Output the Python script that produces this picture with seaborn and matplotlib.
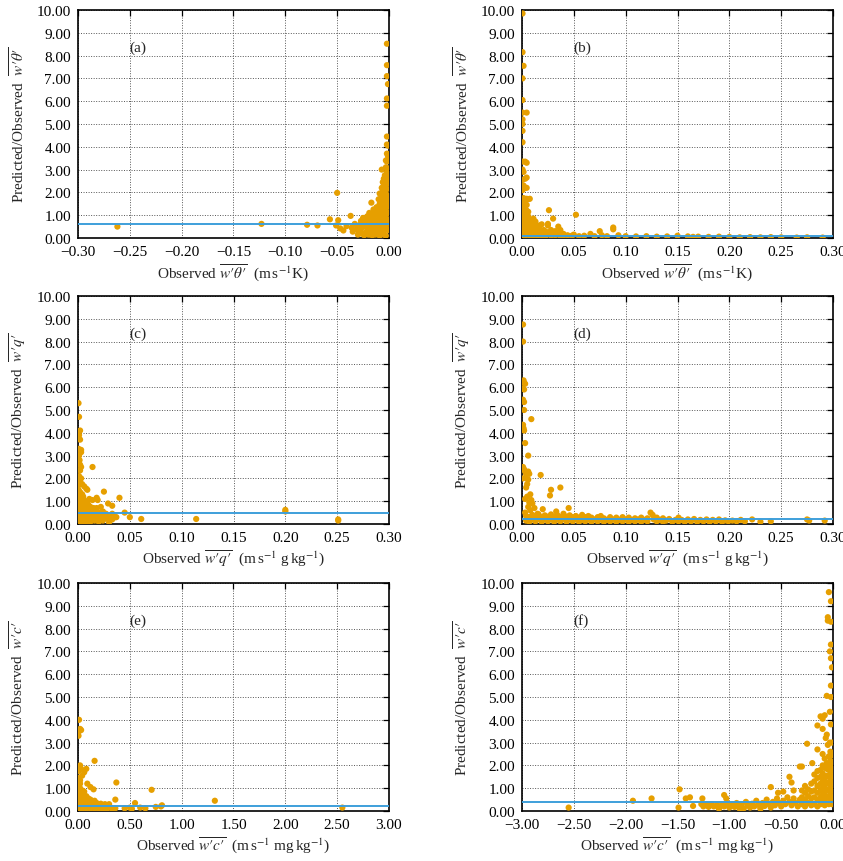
import numpy as np
import pandas as pd
import matplotlib
matplotlib.use("Agg")
import matplotlib.pyplot as plt
from matplotlib.ticker import FuncFormatter, MultipleLocator
import seaborn as sns

# ---------------- data ----------------
panel_tags = ["(a)", "(b)", "(c)", "(d)", "(e)", "(f)"]
mean_ratio = [0.60, 0.08, 0.48, 0.20, 0.20, 0.38]
x_limits = [(-0.30, 0.0), (0.0, 0.30), (0.0, 0.30), (0.0, 0.30), (0.0, 3.0), (-3.0, 0.0)]
x_steps = [0.05, 0.05, 0.05, 0.05, 0.5, 0.5]
flux_names = ["\\overline{w\u2032\\theta\u2032}", "\\overline{w\u2032\\theta\u2032}",
              "\\overline{w\u2032q\u2032}", "\\overline{w\u2032q\u2032}",
              "\\overline{w\u2032c\u2032}", "\\overline{w\u2032c\u2032}"]
flux_units = [r"(m$\,$s$^{-1}$K)", r"(m$\,$s$^{-1}$K)",
              r"(m$\,$s$^{-1}$ g$\,$kg$^{-1}$)", r"(m$\,$s$^{-1}$ g$\,$kg$^{-1}$)",
              r"(m$\,$s$^{-1}$ mg$\,$kg$^{-1}$)", r"(m$\,$s$^{-1}$ mg$\,$kg$^{-1}$)"]

pts_a = [(-0.262, 0.50), (-0.123, 0.62), (-0.079, 0.58), (-0.069, 0.55), (-0.057, 0.82),
         (-0.051, 0.55), (-0.050, 1.98), (-0.049, 0.78), (-0.047, 0.42), (-0.044, 0.33),
         (-0.041, 0.52), (-0.037, 0.97), (-0.036, 0.45), (-0.035, 0.28), (-0.033, 0.62),
         (-0.031, 0.40), (-0.030, 0.15), (-0.030, 0.35), (-0.030, 0.50), (-0.029, 0.55),
         (-0.028, 0.30), (-0.027, 0.20), (-0.027, 0.40), (-0.027, 0.62), (-0.027, 0.75),
         (-0.026, 0.48), (-0.025, 0.88), (-0.025, 0.20), (-0.024, 0.12), (-0.024, 0.50),
         (-0.024, 0.72), (-0.023, 0.60), (-0.022, 0.25), (-0.021, 0.30), (-0.021, 0.55),
         (-0.021, 0.80), (-0.021, 0.95), (-0.020, 0.45), (-0.020, 0.15), (-0.019, 1.10),
         (-0.019, 0.70), (-0.018, 0.15), (-0.018, 0.45), (-0.018, 0.85), (-0.018, 1.00),
         (-0.017, 1.55), (-0.017, 0.55), (-0.016, 0.85), (-0.016, 0.12), (-0.016, 0.35),
         (-0.015, 0.25), (-0.015, 0.55), (-0.015, 0.95), (-0.015, 1.25), (-0.014, 0.65),
         (-0.014, 0.20), (-0.014, 1.05), (-0.013, 0.15), (-0.013, 0.45), (-0.013, 0.75),
         (-0.013, 1.15), (-0.012, 1.35), (-0.012, 0.50), (-0.012, 0.25), (-0.011, 0.35),
         (-0.011, 0.60), (-0.011, 1.00), (-0.011, 1.25), (-0.010, 1.70), (-0.010, 1.10),
         (-0.010, 0.35), (-0.010, 0.80), (-0.009, 0.10), (-0.009, 0.45), (-0.009, 0.80),
         (-0.009, 1.20), (-0.009, 1.95), (-0.009, 1.50), (-0.008, 1.40), (-0.008, 0.90),
         (-0.008, 0.20), (-0.008, 0.60), (-0.008, 1.15), (-0.007, 3.00), (-0.007, 2.20),
         (-0.007, 0.30), (-0.007, 0.70), (-0.007, 0.95), (-0.007, 1.50), (-0.007, 1.80),
         (-0.006, 0.25), (-0.006, 0.55), (-0.006, 1.30), (-0.006, 2.05), (-0.006, 2.45),
         (-0.006, 1.00), (-0.006, 1.65), (-0.005, 0.15), (-0.005, 0.70), (-0.005, 1.25),
         (-0.005, 1.60), (-0.005, 2.30), (-0.005, 2.60), (-0.005, 1.95), (-0.005, 0.45),
         (-0.004, 0.35), (-0.004, 0.90), (-0.004, 1.20), (-0.004, 1.85), (-0.004, 2.10),
         (-0.004, 2.75), (-0.004, 1.55), (-0.003, 0.10), (-0.003, 0.55), (-0.003, 0.80),
         (-0.003, 1.45), (-0.003, 1.70), (-0.003, 2.20), (-0.003, 2.60), (-0.003, 3.10),
         (-0.003, 3.40), (-0.003, 1.10), (-0.003, 1.95), (-0.002, 0.40), (-0.002, 0.65),
         (-0.002, 1.05), (-0.002, 1.35), (-0.002, 1.85), (-0.002, 2.15), (-0.002, 2.50),
         (-0.002, 2.90), (-0.002, 3.35), (-0.002, 3.70), (-0.002, 8.52), (-0.002, 7.58),
         (-0.002, 7.10), (-0.001, 6.75), (-0.002, 6.12), (-0.002, 5.80), (-0.002, 4.45),
         (-0.002, 4.10), (-0.001, 4.05), (-0.001, 0.35), (-0.001, 0.80), (-0.001, 1.10),
         (-0.001, 1.55), (-0.001, 1.80), (-0.001, 2.40), (-0.001, 2.70), (-0.001, 3.05),
         (-0.001, 3.45), (-0.001, 3.60)]

pts_b = [(0.0005, 0.1), (0.0005, 0.3), (0.0005, 0.5), (0.0005, 0.7), (0.0005, 0.9),
         (0.0005, 1.1), (0.0005, 1.3), (0.0005, 1.5), (0.0005, 1.7), (0.0005, 2.1),
         (0.0005, 2.55), (0.0005, 3.0), (0.0005, 3.35), (0.0005, 4.2), (0.0005, 4.7),
         (0.0005, 5.0), (0.0005, 5.2), (0.0005, 5.5), (0.0005, 6.05), (0.0005, 7.0),
         (0.0005, 8.15), (0.0005, 9.85), (0.0015, 0.2), (0.0015, 0.4), (0.0015, 0.6),
         (0.0015, 0.8), (0.0015, 1.0), (0.0015, 1.2), (0.0015, 1.4), (0.0015, 1.6),
         (0.0015, 1.75), (0.0015, 2.3), (0.0015, 2.9), (0.0015, 7.55), (0.003, 0.1),
         (0.003, 0.3), (0.003, 0.5), (0.003, 0.7), (0.003, 0.9), (0.003, 1.1), (0.003, 1.3),
         (0.003, 1.5), (0.003, 1.7), (0.003, 2.2), (0.003, 2.6), (0.003, 3.35),
         (0.0045, 0.2), (0.0045, 0.4), (0.0045, 0.6), (0.0045, 0.8), (0.0045, 1.0),
         (0.0045, 1.2), (0.0045, 1.45), (0.0045, 1.72), (0.0045, 2.2), (0.0045, 2.65),
         (0.0045, 3.3), (0.0045, 5.5), (0.006, 0.15), (0.006, 0.35), (0.006, 0.55),
         (0.006, 0.75), (0.006, 0.95), (0.006, 1.15), (0.006, 1.7), (0.0075, 0.1),
         (0.0075, 0.3), (0.0075, 0.5), (0.0075, 0.7), (0.0075, 1.72), (0.009, 0.15),
         (0.009, 0.35), (0.009, 0.55), (0.009, 0.75), (0.011, 0.1), (0.011, 0.3),
         (0.011, 0.5), (0.011, 0.85), (0.013, 0.2), (0.013, 0.4), (0.013, 0.6),
         (0.013, 0.72), (0.015, 0.1), (0.015, 0.3), (0.015, 0.5), (0.017, 0.2),
         (0.017, 0.4), (0.017, 0.55), (0.019, 0.1), (0.019, 0.3), (0.019, 0.6),
         (0.021, 0.15), (0.021, 0.35), (0.023, 0.1), (0.023, 0.28), (0.025, 0.2),
         (0.025, 0.55), (0.025, 0.62), (0.026, 1.22), (0.028, 0.1), (0.028, 0.35),
         (0.030, 0.85), (0.030, 0.2), (0.032, 0.12), (0.032, 0.3), (0.035, 0.5),
         (0.035, 0.15), (0.037, 0.35), (0.037, 0.1), (0.040, 0.18), (0.040, 0.1),
         (0.044, 0.12), (0.048, 0.1), (0.050, 0.15), (0.052, 1.02), (0.055, 0.08),
         (0.060, 0.1), (0.066, 0.18), (0.070, 0.08), (0.075, 0.3), (0.077, 0.12),
         (0.082, 0.08), (0.088, 0.46), (0.088, 0.38), (0.093, 0.12), (0.10, 0.08),
         (0.11, 0.07), (0.12, 0.08), (0.13, 0.06), (0.14, 0.07), (0.15, 0.1), (0.16, 0.07),
         (0.165, 0.05), (0.17, 0.06), (0.18, 0.05), (0.19, 0.06), (0.20, 0.05),
         (0.21, 0.03), (0.22, 0.04), (0.23, 0.03), (0.24, 0.04), (0.25, 0.03),
         (0.265, 0.02), (0.275, 0.03), (0.29, 0.02)]

pts_c = [(0.0005, 5.3), (0.001, 4.7), (0.002, 4.1), (0.001, 3.9), (0.001, 3.75),
         (0.002, 3.7), (0.0005, 3.3), (0.003, 3.25), (0.003, 3.15), (0.001, 3.0),
         (0.0015, 2.8), (0.002, 2.6), (0.003, 2.5), (0.002, 2.35), (0.014, 2.5),
         (0.001, 2.1), (0.003, 2.0), (0.002, 1.8), (0.004, 1.75), (0.006, 1.65),
         (0.008, 1.55), (0.009, 1.5), (0.025, 1.42), (0.040, 1.15), (0.004, 1.3),
         (0.005, 1.2), (0.011, 1.1), (0.018, 1.15), (0.019, 1.05), (0.029, 0.9),
         (0.033, 0.8), (0.003, 0.95), (0.007, 0.95), (0.015, 0.7), (0.022, 0.75),
         (0.045, 0.5), (0.050, 0.3), (0.061, 0.22), (0.114, 0.22), (0.200, 0.62),
         (0.200, 0.55), (0.251, 0.2), (0.251, 0.15), (0.030, 0.08), (0.036, 0.3),
         (0.0005, 0.1), (0.0005, 0.3), (0.0005, 0.5), (0.0005, 0.7), (0.0005, 0.9),
         (0.0005, 1.1), (0.0005, 1.3), (0.0005, 1.5), (0.0005, 1.7), (0.0005, 1.9),
         (0.002, 0.2), (0.002, 0.4), (0.002, 0.6), (0.002, 0.8), (0.002, 1.0),
         (0.002, 1.2), (0.002, 1.4), (0.004, 0.1), (0.004, 0.3), (0.004, 0.5),
         (0.004, 0.7), (0.004, 0.9), (0.004, 1.1), (0.006, 0.2), (0.006, 0.4),
         (0.006, 0.6), (0.006, 0.8), (0.006, 1.05), (0.008, 0.1), (0.008, 0.3),
         (0.008, 0.5), (0.008, 0.7), (0.008, 0.95), (0.010, 0.2), (0.010, 0.4),
         (0.010, 0.6), (0.010, 0.85), (0.012, 0.1), (0.012, 0.3), (0.012, 0.5),
         (0.012, 0.75), (0.014, 0.2), (0.014, 0.4), (0.014, 0.6), (0.014, 1.05),
         (0.016, 0.15), (0.016, 0.35), (0.016, 0.55), (0.018, 0.25), (0.018, 0.45),
         (0.018, 0.7), (0.020, 0.1), (0.020, 0.3), (0.020, 0.5), (0.022, 0.2),
         (0.022, 0.4), (0.024, 0.15), (0.024, 0.35), (0.024, 0.55), (0.027, 0.25),
         (0.027, 0.45), (0.030, 0.3), (0.033, 0.2), (0.033, 0.45), (0.037, 0.3)]

pts_d = [(0.001, 8.75), (0.001, 8.0), (0.0015, 6.3), (0.002, 6.2), (0.001, 5.95),
         (0.002, 5.9), (0.003, 6.15), (0.001, 5.45), (0.002, 5.35), (0.002, 5.0),
         (0.009, 4.6), (0.001, 4.35), (0.0015, 4.2), (0.002, 4.1), (0.003, 3.55),
         (0.006, 3.0), (0.001, 2.5), (0.002, 2.4), (0.003, 2.3), (0.004, 2.2),
         (0.006, 2.3), (0.007, 2.2), (0.018, 2.15), (0.001, 2.0), (0.004, 2.0),
         (0.006, 1.95), (0.005, 1.75), (0.004, 1.6), (0.037, 1.6), (0.028, 1.5),
         (0.008, 1.3), (0.005, 1.2), (0.027, 1.25), (0.003, 1.1), (0.009, 1.05),
         (0.007, 0.95), (0.010, 0.9), (0.006, 0.75), (0.012, 0.7), (0.008, 0.6),
         (0.003, 0.5), (0.020, 0.65), (0.045, 0.7), (0.015, 0.45), (0.033, 0.55),
         (0.004, 0.15), (0.004, 0.35), (0.007, 0.1), (0.007, 0.3), (0.010, 0.2),
         (0.010, 0.4), (0.013, 0.12), (0.013, 0.32), (0.016, 0.22), (0.016, 0.42),
         (0.019, 0.1), (0.019, 0.3), (0.022, 0.2), (0.022, 0.38), (0.025, 0.12),
         (0.025, 0.32), (0.028, 0.22), (0.028, 0.42), (0.031, 0.1), (0.031, 0.3),
         (0.034, 0.2), (0.034, 0.4), (0.037, 0.12), (0.037, 0.3), (0.040, 0.22),
         (0.040, 0.45), (0.043, 0.1), (0.043, 0.32), (0.046, 0.2), (0.046, 0.38),
         (0.049, 0.12), (0.049, 0.3), (0.052, 0.22), (0.052, 0.35), (0.055, 0.1),
         (0.055, 0.28), (0.058, 0.18), (0.058, 0.4), (0.061, 0.12), (0.061, 0.3),
         (0.064, 0.2), (0.064, 0.35), (0.067, 0.1), (0.067, 0.28), (0.070, 0.2),
         (0.073, 0.12), (0.073, 0.3), (0.076, 0.2), (0.076, 0.35), (0.079, 0.1),
         (0.079, 0.25), (0.082, 0.18), (0.085, 0.12), (0.085, 0.3), (0.088, 0.2),
         (0.091, 0.1), (0.091, 0.28), (0.094, 0.18), (0.097, 0.12), (0.097, 0.3),
         (0.100, 0.2), (0.103, 0.1), (0.103, 0.28), (0.106, 0.18), (0.109, 0.12),
         (0.109, 0.25), (0.112, 0.2), (0.115, 0.1), (0.115, 0.28), (0.118, 0.18),
         (0.121, 0.12), (0.121, 0.25), (0.124, 0.5), (0.126, 0.4), (0.127, 0.2),
         (0.130, 0.12), (0.130, 0.28), (0.133, 0.18), (0.136, 0.1), (0.136, 0.25),
         (0.139, 0.15), (0.142, 0.22), (0.145, 0.1), (0.148, 0.18), (0.151, 0.12),
         (0.151, 0.28), (0.154, 0.18), (0.157, 0.1), (0.160, 0.2), (0.163, 0.12),
         (0.166, 0.22), (0.169, 0.1), (0.172, 0.18), (0.175, 0.12), (0.178, 0.2),
         (0.181, 0.1), (0.184, 0.18), (0.187, 0.12), (0.190, 0.2), (0.193, 0.1),
         (0.196, 0.16), (0.199, 0.12), (0.203, 0.15), (0.207, 0.12), (0.211, 0.18),
         (0.215, 0.12), (0.222, 0.2), (0.230, 0.1), (0.240, 0.12), (0.275, 0.2),
         (0.277, 0.15), (0.292, 0.15)]

pts_e = [(0.01, 4.0), (0.02, 3.6), (0.03, 3.55), (0.01, 3.5), (0.005, 3.3),
         (0.16, 2.2), (0.02, 2.0), (0.03, 1.85), (0.08, 1.85), (0.06, 1.7),
         (0.04, 1.55), (0.09, 1.2), (0.12, 1.05), (0.37, 1.25), (0.15, 0.95),
         (0.71, 0.93), (0.36, 0.5), (1.32, 0.45), (0.55, 0.35), (0.81, 0.25),
         (0.80, 0.2), (0.60, 0.15), (0.50, 0.15), (0.45, 0.12), (0.75, 0.18),
         (2.55, 0.15), (0.30, 0.3), (0.25, 0.25), (0.65, 0.12), (0.52, 0.1),
         (0.005, 0.1), (0.005, 0.3), (0.005, 0.5), (0.005, 0.7), (0.005, 0.9),
         (0.005, 1.1), (0.005, 1.3), (0.005, 1.45), (0.005, 1.75), (0.02, 0.2),
         (0.02, 0.4), (0.02, 0.6), (0.02, 0.8), (0.02, 1.0), (0.02, 1.2), (0.02, 1.35),
         (0.04, 0.1), (0.04, 0.3), (0.04, 0.5), (0.04, 0.7), (0.04, 0.9), (0.06, 0.2),
         (0.06, 0.4), (0.06, 0.6), (0.06, 0.85), (0.08, 0.1), (0.08, 0.3), (0.08, 0.5),
         (0.08, 0.65), (0.10, 0.2), (0.10, 0.4), (0.10, 0.55), (0.12, 0.1), (0.12, 0.3),
         (0.12, 0.5), (0.14, 0.2), (0.14, 0.4), (0.16, 0.1), (0.16, 0.3), (0.16, 0.45),
         (0.18, 0.2), (0.18, 0.35), (0.20, 0.1), (0.20, 0.3), (0.22, 0.2), (0.22, 0.32),
         (0.24, 0.1), (0.24, 0.25), (0.26, 0.15), (0.26, 0.3), (0.28, 0.1), (0.28, 0.2),
         (0.30, 0.15), (0.33, 0.1), (0.36, 0.12)]

pts_f = [(-2.55, 0.15), (-1.93, 0.45), (-1.75, 0.55), (-1.48, 0.95), (-1.49, 0.15),
         (-1.42, 0.55), (-1.38, 0.6), (-1.35, 0.22), (-1.26, 0.55), (-1.27, 0.3),
         (-1.25, 0.2), (-1.22, 0.28), (-1.20, 0.18), (-1.17, 0.3), (-1.15, 0.2),
         (-1.12, 0.25), (-1.10, 0.15), (-1.10, 0.1), (-1.07, 0.3), (-1.05, 0.2),
         (-1.05, 0.7), (-1.03, 0.55), (-1.02, 0.35), (-1.00, 0.15), (-0.97, 0.28),
         (-0.95, 0.18), (-0.93, 0.35), (-0.90, 0.2), (-0.90, 0.1), (-0.88, 0.3),
         (-0.86, 0.12), (-0.84, 0.4), (-0.82, 0.25), (-0.80, 0.15), (-0.78, 0.32),
         (-0.76, 0.2), (-0.74, 0.45), (-0.72, 0.28), (-0.70, 0.15), (-0.70, 0.1),
         (-0.68, 0.35), (-0.66, 0.22), (-0.64, 0.5), (-0.62, 0.3), (-0.60, 0.15),
         (-0.60, 1.05), (-0.58, 0.4), (-0.56, 0.25), (-0.54, 0.55), (-0.53, 0.8),
         (-0.52, 0.35), (-0.50, 0.2), (-0.48, 0.45), (-0.48, 0.85), (-0.46, 0.3),
         (-0.44, 0.6), (-0.42, 0.4), (-0.42, 1.5), (-0.40, 0.25), (-0.40, 1.25),
         (-0.38, 0.55), (-0.38, 0.9), (-0.36, 0.35), (-0.34, 0.2), (-0.32, 0.5),
         (-0.32, 1.95), (-0.30, 1.95), (-0.25, 2.95), (-0.20, 2.1), (-0.15, 2.7),
         (-0.15, 3.75), (-0.12, 4.15), (-0.10, 4.05), (-0.10, 3.6), (-0.10, 2.5),
         (-0.08, 4.2), (-0.08, 2.3), (-0.07, 3.2), (-0.06, 3.35), (-0.06, 5.05),
         (-0.05, 8.5), (-0.05, 8.35), (-0.05, 2.9), (-0.04, 9.6), (-0.03, 7.0),
         (-0.03, 4.35), (-0.03, 3.0), (-0.02, 9.2), (-0.02, 8.3), (-0.02, 7.3),
         (-0.02, 6.7), (-0.02, 5.5), (-0.02, 5.0), (-0.02, 3.8), (-0.01, 6.3),
         (-0.30, 0.3), (-0.30, 0.6), (-0.30, 0.9), (-0.27, 0.2), (-0.27, 0.5),
         (-0.27, 0.8), (-0.27, 1.1), (-0.24, 0.35), (-0.24, 0.65), (-0.24, 0.95),
         (-0.21, 0.25), (-0.21, 0.55), (-0.21, 0.85), (-0.21, 1.2), (-0.18, 0.3),
         (-0.18, 0.6), (-0.18, 0.9), (-0.18, 1.3), (-0.18, 1.6), (-0.15, 0.2),
         (-0.15, 0.5), (-0.15, 0.8), (-0.15, 1.1), (-0.15, 1.45), (-0.15, 1.75),
         (-0.12, 0.3), (-0.12, 0.6), (-0.12, 0.9), (-0.12, 1.2), (-0.12, 1.5),
         (-0.12, 1.8), (-0.10, 0.4), (-0.10, 0.7), (-0.10, 1.0), (-0.10, 1.3),
         (-0.10, 1.65), (-0.10, 2.0), (-0.08, 0.25), (-0.08, 0.55), (-0.08, 0.85),
         (-0.08, 1.15), (-0.08, 1.45), (-0.08, 1.9), (-0.06, 0.35), (-0.06, 0.65),
         (-0.06, 0.95), (-0.06, 1.25), (-0.06, 1.55), (-0.06, 1.85), (-0.06, 2.1),
         (-0.04, 0.3), (-0.04, 0.6), (-0.04, 0.9), (-0.04, 1.2), (-0.04, 1.5),
         (-0.04, 1.8), (-0.04, 2.0), (-0.04, 2.4), (-0.025, 0.4), (-0.025, 0.7),
         (-0.025, 1.0), (-0.025, 1.3), (-0.025, 1.6), (-0.025, 1.9), (-0.025, 2.2),
         (-0.025, 2.6), (-0.01, 0.3), (-0.01, 0.6), (-0.01, 0.9), (-0.01, 1.2),
         (-0.01, 1.5), (-0.01, 1.8), (-0.01, 2.1), (-0.01, 2.45), (-0.01, 3.0)]

all_points = [pts_a, pts_b, pts_c, pts_d, pts_e, pts_f]

# ---------------- style ----------------
sns.set_style("white")
plt.rcParams["font.family"] = ["Liberation Serif", "DejaVu Serif"]
plt.rcParams["mathtext.fontset"] = "stix"
plt.rcParams["axes.unicode_minus"] = True

DOT = "#E69F00"
LINE = "#3E9FDB"
FS = 11

fig = plt.figure(figsize=(8.43, 8.62), dpi=100)
W, H = 843.0, 862.0
col_left = [78, 522]
col_width = 311
row_top = [11, 297, 584]
row_height = 228


def fmt_two(v, pos):
    s = "%.2f" % v
    if s.startswith("-"):
        if float(s) == 0:
            return "0.00"
        s = "\u2212" + s[1:]
    return s


for i, pts in enumerate(all_points):
    r, c = divmod(i, 2)
    left = col_left[c] / W
    bottom = (H - row_top[r] - row_height) / H
    ax = fig.add_axes([left, bottom, col_width / W, row_height / H])

    df = pd.DataFrame(pts, columns=["obs", "ratio"])
    sns.scatterplot(data=df, x="obs", y="ratio", ax=ax, color=DOT, s=20,
                    edgecolor="none", linewidth=0, zorder=3, legend=False)
    ax.axhline(mean_ratio[i], color=LINE, lw=1.4, zorder=4)

    ax.set_xlim(*x_limits[i])
    ax.set_ylim(0, 10)
    ax.xaxis.set_major_locator(MultipleLocator(x_steps[i]))
    ax.yaxis.set_major_locator(MultipleLocator(1.0))
    ax.xaxis.set_major_formatter(FuncFormatter(fmt_two))
    ax.yaxis.set_major_formatter(FuncFormatter(fmt_two))

    ax.grid(True, color="#555555", linestyle=(0, (1, 1.6)), linewidth=0.7, zorder=0)
    ax.set_axisbelow(True)
    for sp in ax.spines.values():
        sp.set_linewidth(1.2)
        sp.set_color("black")
    ax.tick_params(direction="in", length=4, width=0.9, labelsize=FS,
                   top=True, right=True, pad=5, colors="black")

    ax.set_xlabel("Observed $%s$  %s" % (flux_names[i], flux_units[i]), fontsize=FS)
    ax.set_ylabel("Predicted/Observed  $%s$" % flux_names[i], fontsize=FS)
    ax.xaxis.label.set_va("center")
    ax.yaxis.label.set_va("center")
    ax.xaxis.set_label_coords(0.5, -34.0 / row_height)
    ax.yaxis.set_label_coords(-60.0 / col_width, 0.5)

    ax.text(1.0 / 6.0, 0.838, panel_tags[i], transform=ax.transAxes,
            ha="left", va="center", fontsize=FS)

fig.savefig("out.png", dpi=100)
